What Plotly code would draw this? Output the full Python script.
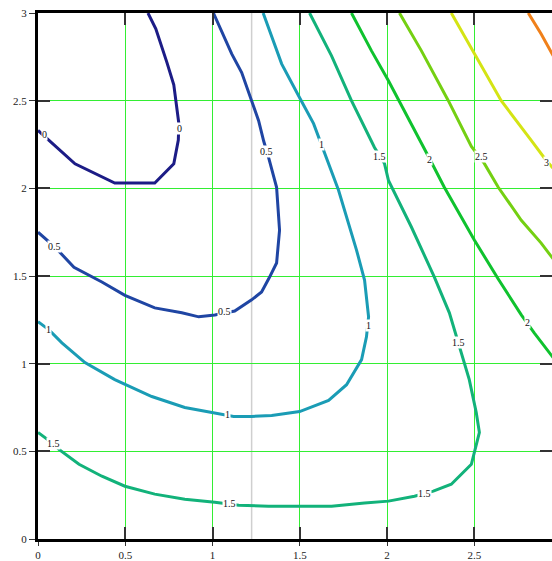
import plotly.graph_objects as go

# Contour levels and their line colours
levels = [0, 0.5, 1, 1.5, 2, 2.5, 3, 3.5]
level_colors = ["#1c1c86", "#1f45a3", "#1a9cb5", "#12b27a",
                "#0fc22e", "#74d012", "#d4e414", "#f0801a"]

# Traced iso-lines (x, y) for each level
c0_x = [0, 0.069, 0.212, 0.44, 0.669, 0.778, 0.804, 0.807, 0.778, 0.738, 0.675, 0.63]
c0_y = [2.33, 2.27, 2.14, 2.03, 2.03, 2.14, 2.275, 2.37, 2.59, 2.72, 2.91, 3.0]

c05_x = [0, 0.097, 0.206, 0.366, 0.498, 0.669, 0.824, 0.921, 1.013, 1.127, 1.224,
         1.281, 1.327, 1.367, 1.384, 1.367, 1.321, 1.293, 1.264, 1.224, 1.167, 1.11, 1.005]
c05_y = [1.75, 1.665, 1.55, 1.466, 1.39, 1.318, 1.29, 1.267, 1.278, 1.30, 1.364,
         1.409, 1.494, 1.574, 1.761, 2.006, 2.176, 2.27, 2.386, 2.5, 2.66, 2.767, 3.0]

c1_x = [0, 0.063, 0.137, 0.269, 0.44, 0.652, 0.841, 1.013, 1.121, 1.224, 1.339, 1.499,
        1.665, 1.768, 1.854, 1.882, 1.894, 1.871, 1.825, 1.722, 1.636, 1.579, 1.499,
        1.396, 1.29]
c1_y = [1.239, 1.193, 1.119, 1.006, 0.909, 0.8125, 0.75, 0.72, 0.699, 0.699, 0.705, 0.727,
        0.79, 0.88, 1.023, 1.153, 1.267, 1.477, 1.648, 1.989, 2.216, 2.369, 2.517,
        2.71, 3.0]

c15_x = [0, 0.092, 0.12, 0.235, 0.366, 0.498, 0.669, 0.841, 1.013, 1.15, 1.321, 1.499,
         1.682, 1.871, 2.008, 2.157, 2.265, 2.368, 2.483, 2.529, 2.511, 2.471, 2.426,
         2.386, 2.357, 2.271, 2.14, 2.008, 1.985, 1.928, 1.796, 1.682, 1.556]
c15_y = [0.608, 0.54, 0.511, 0.426, 0.358, 0.301, 0.256, 0.227, 0.21, 0.193, 0.1875, 0.1875,
         0.1875, 0.205, 0.216, 0.244, 0.273, 0.3125, 0.426, 0.608, 0.722, 0.909, 1.0625,
         1.193, 1.29, 1.494, 1.778, 2.045, 2.142, 2.233, 2.5, 2.756, 3.0]

c2_x = [1.796, 1.911, 2.008, 2.14, 2.243, 2.328, 2.5, 2.637, 2.769, 2.843, 2.952]
c2_y = [3.0, 2.784, 2.614, 2.369, 2.17, 2.006, 1.705, 1.483, 1.278, 1.176, 1.034]

c25_x = [2.071, 2.197, 2.351, 2.483, 2.557, 2.637, 2.769, 2.883, 2.952]
c25_y = [3.0, 2.784, 2.5, 2.239, 2.142, 2.006, 1.818, 1.6875, 1.597]

c3_x = [2.368, 2.5, 2.654, 2.826, 2.912, 2.952]
c3_y = [3.0, 2.767, 2.5, 2.273, 2.159, 2.114]

c35_x = [2.809, 2.883, 2.952]
c35_y = [3.0, 2.88, 2.756]

contour_x = [c0_x, c05_x, c1_x, c15_x, c2_x, c25_x, c3_x, c35_x]
contour_y = [c0_y, c05_y, c1_y, c15_y, c2_y, c25_y, c3_y, c35_y]

# Inline level labels
label_level = [0, 0, 0.5, 0.5, 0.5, 1, 1, 1, 1, 1.5, 1.5, 1.5, 1.5, 1.5, 2, 2, 2.5, 3]
label_x = [0.037, 0.81, 0.095, 1.068, 1.309, 0.06, 1.085, 1.893, 1.624,
           0.089, 1.097, 2.214, 2.408, 1.956, 2.242, 2.804, 2.54, 2.912]
label_y = [2.307, 2.34, 1.668, 1.30, 2.21, 1.197, 0.708, 1.22, 2.25,
           0.543, 0.202, 0.259, 1.123, 2.18, 2.164, 1.237, 2.18, 2.147]

x_max = 2.945
y_max = 3.0
cursor_x = 1.224

serif = "Liberation Serif, Times New Roman, serif"

fig = go.Figure()
for lvl, col, xs, ys in zip(levels, level_colors, contour_x, contour_y):
    fig.add_trace(go.Scatter(x=xs, y=ys, mode="lines",
                             line=dict(color=col, width=3),
                             name=f"{lvl:g}", hoverinfo="skip", showlegend=False))

# empty trace that carries the inner-tick axes
fig.add_trace(go.Scatter(x=[], y=[], xaxis="x2", yaxis="y2", showlegend=False))

for lvl, lx, ly in zip(label_level, label_x, label_y):
    fig.add_annotation(x=lx, y=ly, text=f"{lvl:g}", showarrow=False,
                       font=dict(family=serif, size=10, color="#111"),
                       bgcolor="white", borderpad=0)

fig.add_shape(type="line", x0=cursor_x, x1=cursor_x, y0=0, y1=1,
              xref="x", yref="paper", layer="between",
              line=dict(color="#cfcfcf", width=1.5))

grid_col = "#33ee33"
tick_font = dict(family=serif, size=11, color="#222")

fig.update_layout(
    width=552, height=561,
    margin=dict(l=38, r=0, t=13, b=20),
    plot_bgcolor="white", paper_bgcolor="white",
    showlegend=False,
    xaxis=dict(range=[0, x_max], tick0=0, dtick=0.5, showgrid=True,
               gridcolor=grid_col, gridwidth=1, zeroline=False,
               showline=True, linecolor="black", linewidth=3, mirror=True,
               ticks="outside", ticklen=4, tickwidth=1, tickcolor="#333",
               tickfont=tick_font),
    yaxis=dict(range=[0, y_max], tick0=0, dtick=0.5, showgrid=True,
               gridcolor=grid_col, gridwidth=1, zeroline=False,
               showline=True, linecolor="black", linewidth=3,
               ticks="outside", ticklen=6, tickwidth=1, tickcolor="#333",
               tickfont=tick_font),
    xaxis2=dict(overlaying="x", side="bottom", range=[0, x_max], tick0=0, dtick=0.5,
                showgrid=False, zeroline=False, showline=False, showticklabels=False,
                ticks="inside", ticklen=12, tickwidth=1.5, tickcolor="#333", mirror="ticks"),
    yaxis2=dict(overlaying="y", side="left", range=[0, y_max], tick0=0, dtick=0.5,
                showgrid=False, zeroline=False, showline=False, showticklabels=False,
                ticks="inside", ticklen=12, tickwidth=1.5, tickcolor="#333", mirror="ticks"),
)

fig.write_html("out.html")
